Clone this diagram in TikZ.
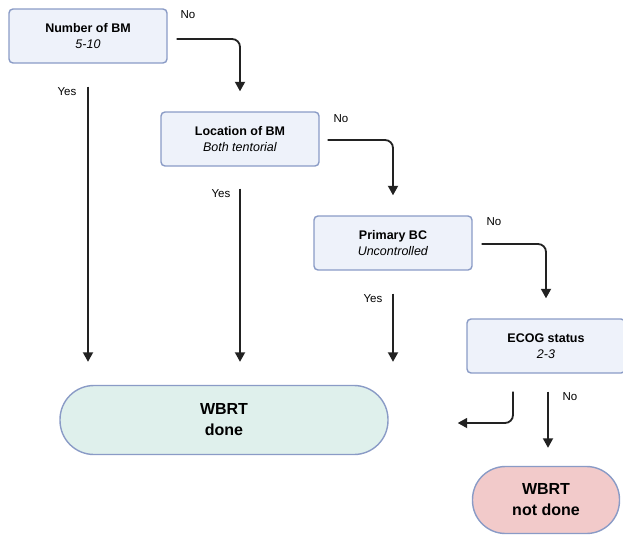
\documentclass[tikz,border=0pt]{standalone}
\usepackage{fontspec}
\setmainfont{Liberation Sans}
\usetikzlibrary{arrows.meta,calc}
\definecolor{boxfill}{HTML}{EEF2FA}
\definecolor{boxline}{HTML}{8A9BC6}
\definecolor{donefill}{HTML}{DFF0EC}
\definecolor{notfill}{HTML}{F2CACA}
\definecolor{arrcol}{HTML}{222222}
\begin{document}
\begin{tikzpicture}[x=1pt,y=-1pt,
  qbox/.style={draw=boxline, fill=boxfill, line width=1.4pt, rounded corners=4pt,
    minimum width=158pt, minimum height=54pt, align=center, inner sep=0pt,
    font=\fontsize{12.5}{15.5}\selectfont},
  pill/.style={draw=boxline, line width=1.4pt, rounded corners=34pt,
    align=center, inner sep=0pt, font=\fontsize{16}{21}\selectfont\bfseries},
  arr/.style={draw=arrcol, line width=1.8pt, rounded corners=8pt,
    -{Triangle[length=9.5pt,width=10pt]}},
  lbl/.style={font=\fontsize{11.5}{13}\selectfont, inner sep=0pt}]
\useasboundingbox (0,0) rectangle (623,536);
\node[qbox] (n1) at (88,36) {\textbf{Number of BM}\\\textit{5-10}};
\node[qbox] (n2) at (240,139) {\textbf{Location of BM}\\\textit{Both tentorial}};
\node[qbox] (n3) at (393,243) {\textbf{Primary BC}\\\textit{Uncontrolled}};
\node[qbox] (n4) at (546,346) {\textbf{ECOG status}\\\textit{2-3}};
\node[pill, fill=donefill, minimum width=328pt, minimum height=69pt] (done) at (224,420) {WBRT\\done};
\node[pill, fill=notfill, minimum width=147pt, minimum height=67pt, rounded corners=33pt] (nd) at (546,500) {WBRT\\not done};
% No arrows
\draw[arr] ([xshift=9pt,yshift=-3pt]n1.east) -| ([yshift=20pt]n2.north);
\draw[arr] ([xshift=8pt,yshift=-1pt]n2.east) -| ([yshift=20pt]n3.north);
\draw[arr] ([xshift=9pt,yshift=-1pt]n3.east) -| ([yshift=20pt]n4.north);
\draw[arr] ([xshift=2pt,yshift=-18pt]n4.south) -- ([xshift=2pt,yshift=18pt]n4.south |- nd.north);
% Yes arrows
\draw[arr] ([yshift=-23pt]n1.south) -- ([yshift=23pt]n1.south |- done.north);
\draw[arr] ([yshift=-22pt]n2.south) -- ([yshift=23pt]n2.south |- done.north);
\draw[arr] ([yshift=-23pt]n3.south) -- ([yshift=23pt]n3.south |- done.north);
\draw[arr] ([xshift=-33pt,yshift=-18pt]n4.south) |- ([xshift=69pt,yshift=-3pt]done.east);
% labels
\node[lbl] (l1) at (188,15) {No};
\node[lbl] (l2) at (341,119) {No};
\node[lbl] (l3) at (494,222) {No};
\node[lbl] (l4) at (570,397) {No};
\node[lbl] (y1) at (67,92) {Yes};
\node[lbl] (y2) at (221,194) {Yes};
\node[lbl] (y3) at (373,299) {Yes};
\end{tikzpicture}
\end{document}
